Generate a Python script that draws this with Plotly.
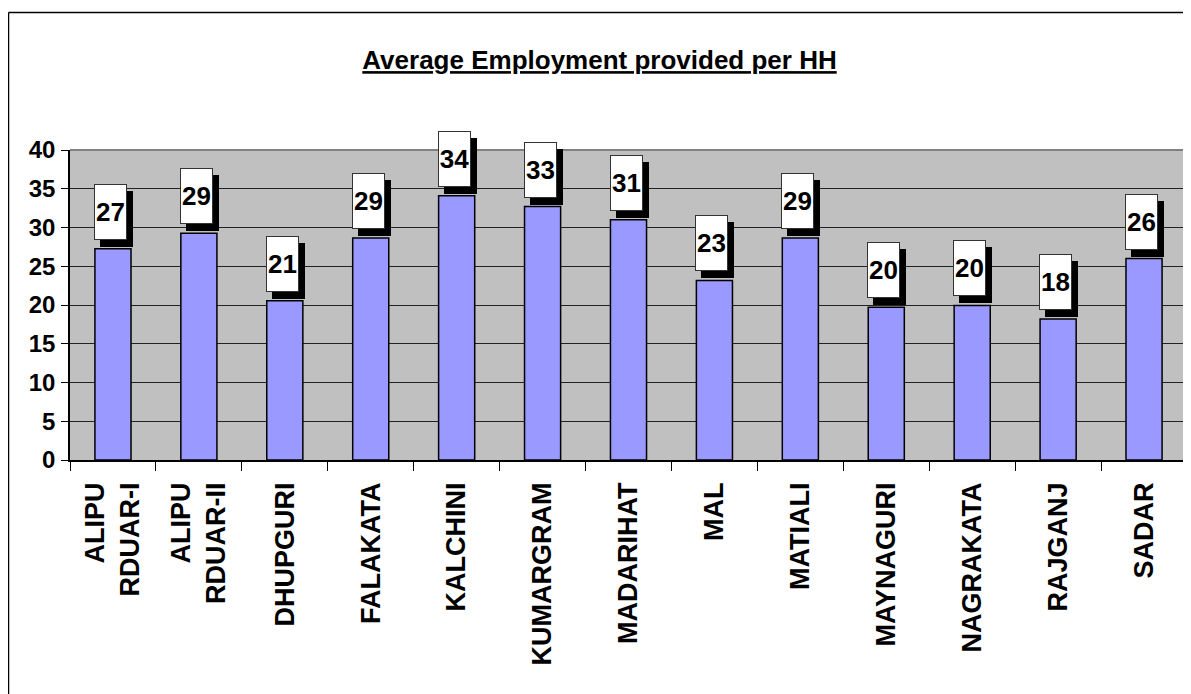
import plotly.graph_objects as go

categories = ["ALIPU<br>RDUAR-I", "ALIPU<br>RDUAR-II", "DHUPGURI", "FALAKATA", "KALCHINI",
              "KUMARGRAM", "MADARIHAT", "MAL", "MATIALI", "MAYNAGURI", "NAGRAKATA",
              "RAJGANJ", "SADAR"]
values = [27.25, 29.25, 20.55, 28.66, 34.1, 32.7, 31.0, 23.17, 28.66, 19.7, 19.95, 18.2, 26.0]
y_ticks = [0, 5, 10, 15, 20, 25, 30, 35, 40]
title_text = "Average Employment provided per HH"

# page has an 8px body margin; figure is sized so it ends at the window edge
OFF = 8
W, H = 1191 - OFF, 694 - OFF
ML, MR, MT, MB = 70 - OFF, 4, 150 - OFF, 694 - 460
PW = W - ML - MR
PH = H - MT - MB

FONT = "Arial, Liberation Sans, sans-serif"

fig = go.Figure()
fig.add_trace(go.Bar(
    x=categories, y=values,
    marker=dict(color="#9999FF", line=dict(color="black", width=1.5)),
    width=0.42,
    hoverinfo="x+y",
))

def px_x(p):
    return (p - OFF - ML) / PW

def px_y(p):
    return (H - MB - (p - OFF)) / PH

shapes = [
    # plot area top and right border (gray)
    dict(type="line", xref="paper", yref="paper", x0=0, x1=1, y0=1, y1=1,
         line=dict(color="#808080", width=2), layer="above"),
    dict(type="line", xref="paper", yref="paper", x0=1, x1=1, y0=0, y1=1,
         line=dict(color="#808080", width=2), layer="above"),
    # outer chart border (top and left)
    dict(type="line", xref="paper", yref="paper", x0=px_x(8.5), x1=px_x(1200), y0=px_y(12.5), y1=px_y(12.5),
         line=dict(color="black", width=1.5)),
    dict(type="line", xref="paper", yref="paper", x0=px_x(8.5), x1=px_x(8.5), y0=px_y(12.5), y1=px_y(720),
         line=dict(color="black", width=1.5)),
]

# data labels: white box with black drop shadow
for c, v in zip(categories, values):
    fig.add_annotation(x=c, y=v, text="&nbsp;", showarrow=False,
                       xanchor="center", yanchor="bottom", xshift=3.5, yshift=2,
                       width=33, height=56, borderpad=0, borderwidth=0, bgcolor="black",
                       font=dict(family=FONT, size=26, color="black"))
    fig.add_annotation(x=c, y=v, text=str(int(round(v))), showarrow=False,
                       xanchor="center", yanchor="bottom", xshift=-2.5, yshift=9,
                       width=31, height=54, borderpad=0, borderwidth=1,
                       bgcolor="white", bordercolor="#333333",
                       font=dict(family=FONT, size=26, color="black", weight="bold"))

fig.update_layout(
    width=W, height=H,
    margin=dict(l=ML, r=MR, t=MT, b=MB, autoexpand=False),
    paper_bgcolor="white",
    plot_bgcolor="#C0C0C0",
    showlegend=False,
    shapes=shapes,
    title=dict(text="<u>" + title_text + "</u>", x=0.5, xref="container", xanchor="center",
               y=1 - (60 - OFF) / H, yanchor="middle",
               font=dict(family=FONT, size=26, color="black", weight="bold")),
    xaxis=dict(
        type="category",
        showline=True, linecolor="black", linewidth=1.5,
        ticks="outside", tickson="boundaries", ticklen=9, tickcolor="black", tickwidth=1,
        tickangle=-90, ticklabelstandoff=10,
        tickfont=dict(family=FONT, size=27, color="black", weight="bold"),
        showgrid=False,
    ),
    yaxis=dict(
        range=[0, 40], tickvals=y_ticks,
        showline=True, linecolor="black", linewidth=1.5,
        ticks="outside", ticklen=7, tickcolor="black", tickwidth=1,
        ticklabelstandoff=1,
        tickfont=dict(family=FONT, size=24, color="black", weight="bold"),
        showgrid=True, gridcolor="#222222", gridwidth=1,
        zeroline=False,
    ),
)

fig.write_html("out.html")
